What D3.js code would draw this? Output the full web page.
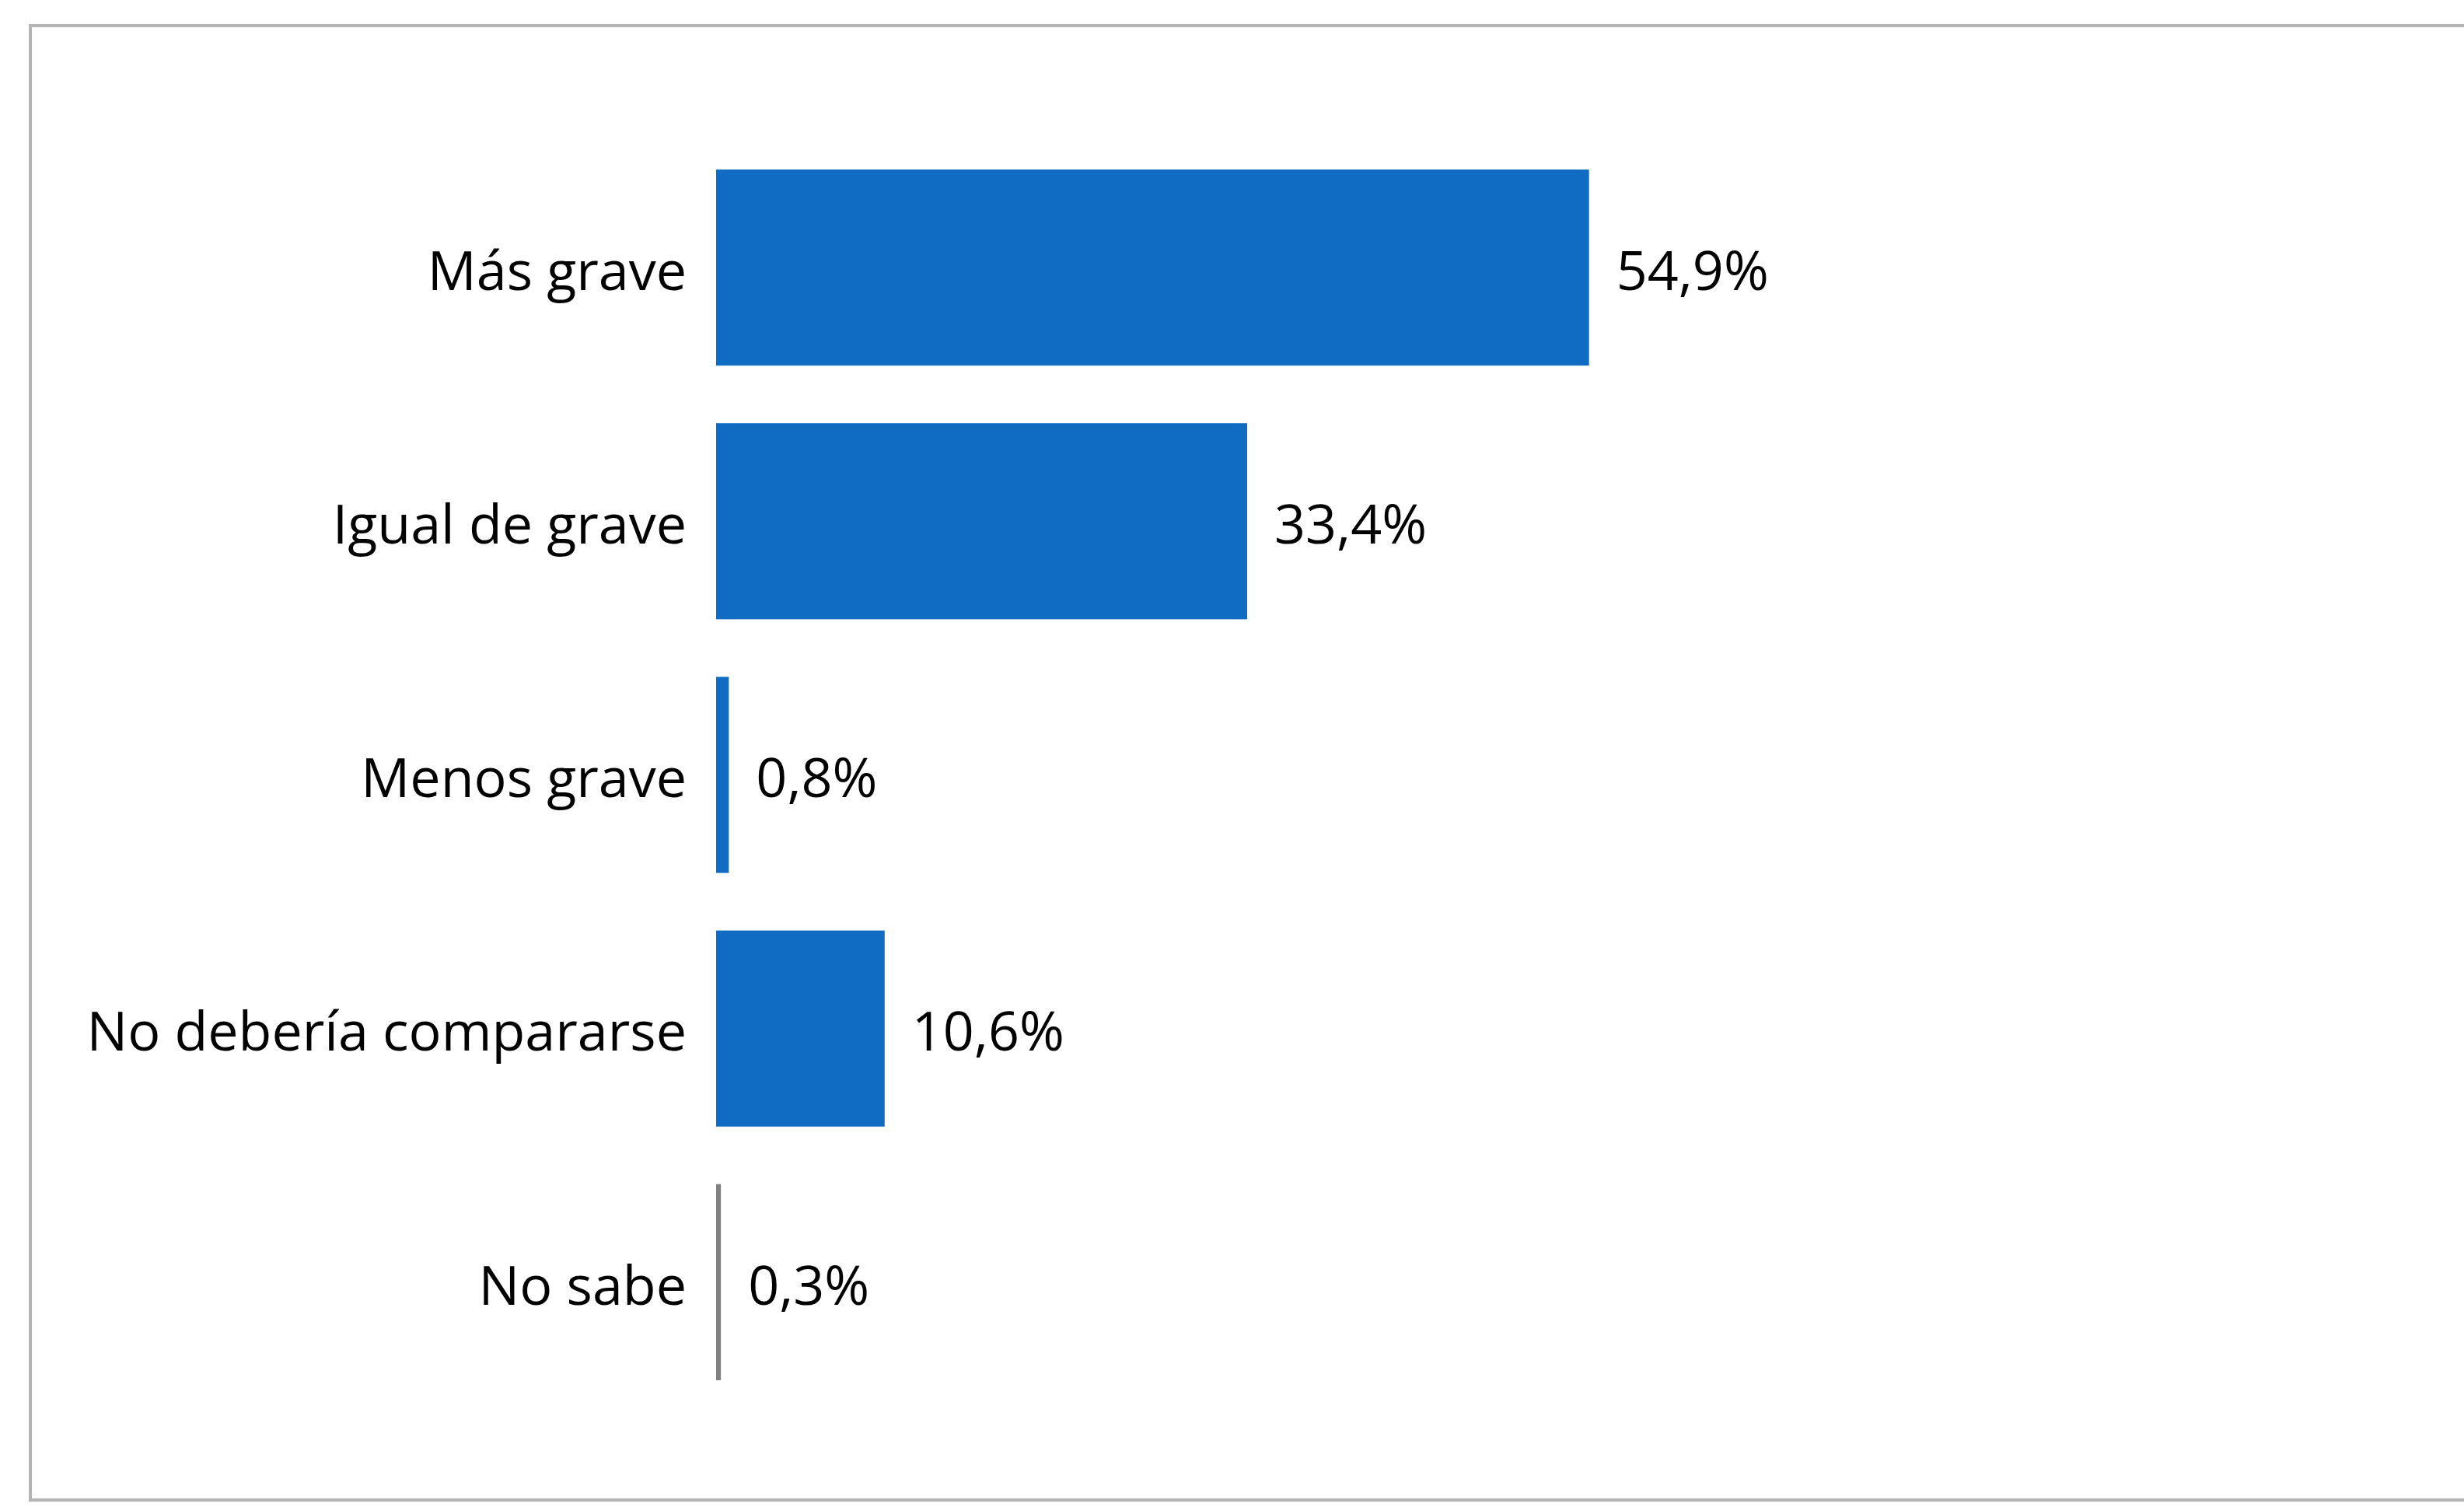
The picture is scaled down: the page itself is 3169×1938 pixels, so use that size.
<!DOCTYPE html>
<html>
<head>
<meta charset="utf-8">
<script src="https://cdn.jsdelivr.net/npm/d3@7"></script>
<style>
  body { margin: 0; background: #fff; }
  svg { display: block; }
</style>
</head>
<body>
<div id="chart"></div>
<script>
// data
const categories = ["Más grave", "Igual de grave", "Menos grave", "No debería compararse", "No sabe"];
const values = [54.9, 33.4, 0.8, 10.6, 0.3];
const barColors = ["#0f6cc1", "#0f6cc1", "#0f6cc1", "#0f6cc1", "#808080"];

const width = 3169, height = 1938;
const fontSize = 70;

const data = categories.map((c, i) => ({ cat: c, value: values[i], color: barColors[i] }));

const svg = d3.select("#chart").append("svg")
  .attr("width", width)
  .attr("height", height)
  .style("font-family", "'Open Sans', 'Noto Sans', sans-serif");

// frame (right edge runs off the picture)
svg.append("rect")
  .attr("x", 39).attr("y", 33)
  .attr("width", width + 20).attr("height", 1896)
  .attr("fill", "none")
  .attr("stroke", "#b4b4b4")
  .attr("stroke-width", 4);

const x = d3.scaleLinear()
  .domain([0, 100])
  .range([921, 2966]);

const y = d3.scaleBand()
  .domain(categories)
  .range([181, 1812])
  .paddingInner(0.227)
  .paddingOuter(0.1135);

// bars
svg.append("g")
  .selectAll("rect")
  .data(data)
  .join("rect")
    .attr("x", x(0))
    .attr("y", d => y(d.cat))
    .attr("width", d => x(d.value) - x(0))
    .attr("height", y.bandwidth())
    .attr("fill", d => d.color);

// category labels
svg.append("g")
  .selectAll("text")
  .data(data)
  .join("text")
    .attr("x", x(0) - 38)
    .attr("y", d => y(d.cat) + y.bandwidth() / 2)
    .attr("dy", "0.41em")
    .attr("text-anchor", "end")
    .style("font-size", fontSize + "px")
    .attr("fill", "#000")
    .text(d => d.cat);

// value labels
const fmt = v => v.toFixed(1).replace(".", ",") + "%";
svg.append("g")
  .selectAll("text")
  .data(data)
  .join("text")
    .attr("x", d => x(d.value) + 35)
    .attr("y", d => y(d.cat) + y.bandwidth() / 2)
    .attr("dy", "0.41em")
    .style("font-size", fontSize + "px")
    .attr("fill", "#000")
    .text(d => fmt(d.value));
</script>
</body>
</html>
